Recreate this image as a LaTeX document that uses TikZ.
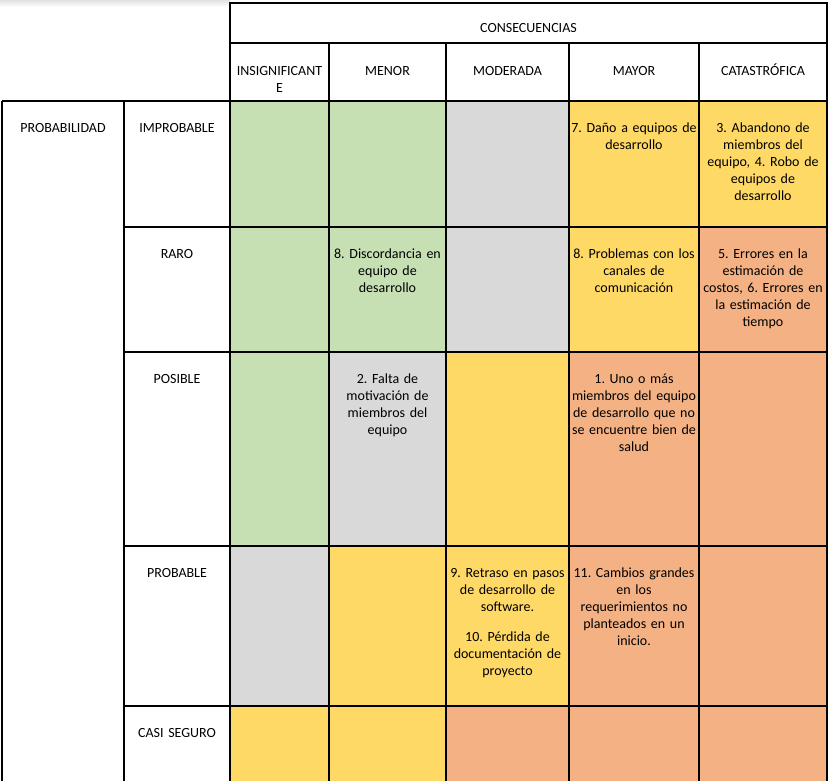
\documentclass[tikz,border=0pt]{standalone}
\usepackage{fontspec}
\setmainfont{Carlito}
\definecolor{cgreen}{HTML}{C6E0B4}
\definecolor{cgray}{HTML}{D9D9D9}
\definecolor{cyellow}{HTML}{FFD966}
\definecolor{corange}{HTML}{F4B183}
\begin{document}
\frenchspacing
\begin{tikzpicture}[x=1pt,y=-1pt,
  gridline/.style={line width=1.2pt, black},
  txt/.style={anchor=base, align=center, inner sep=0pt, text width=#1,
    font=\fontsize{14}{17}\selectfont\frenchspacing, text=black},
  txt/.default=124pt]
\useasboundingbox (0,0) rectangle (830,781);
\fill[white] (0,0) rectangle (830,781);
\shade[top color=black!12, bottom color=white] (0,0) rectangle (230,7);
% cell fills
\foreach \ta/\tb/\ca/\cb/\cc/\cd/\ce in {
  101/227/cgreen/cgreen/cgray/cyellow/cyellow,
  227/352/cgreen/cgreen/cgray/cyellow/corange,
  352/546/cgreen/cgray/cyellow/corange/corange,
  546/706/cgray/cyellow/cyellow/corange/corange,
  706/781/cyellow/cyellow/corange/corange/corange}{
  \fill[\ca] (230,\ta) rectangle (329,\tb);
  \fill[\cb] (329,\ta) rectangle (446,\tb);
  \fill[\cc] (446,\ta) rectangle (569,\tb);
  \fill[\cd] (569,\ta) rectangle (699,\tb);
  \fill[\ce] (699,\ta) rectangle (827,\tb);
}
% header grid
\draw[gridline] (230,3) rectangle (827,101);
\draw[gridline] (230,43) -- (827,43);
\foreach \x in {329,446,569,699} \draw[gridline] (\x,43) -- (\x,101);
% body grid
\draw[gridline] (2,101) -- (827,101);
\foreach \x in {2,124,230,329,446,569,699,827} \draw[gridline] (\x,101) -- (\x,781);
\foreach \y in {227,352,546,706} \draw[gridline] (124,\y) -- (827,\y);
% header texts
\node[txt=580pt] (consec) at (528.5,32.5) {CONSECUENCIAS};
\node[txt=95pt] (hinsig) at (279.5,75.5) {INSIGNIFICANT\\E};
\node[txt=110pt] (hmenor) at (387.5,75.5) {MENOR};
\node[txt=116pt] (hmoder) at (507.5,75.5) {MODERADA};
\node[txt=124pt] (hmayor) at (634,75.5) {MAYOR};
\node[txt=124pt] (hcatas) at (763,75.5) {CATASTRÓFICA};
% row labels
\node[txt=118pt] (prob) at (63,132.5) {PROBABILIDAD};
\node[txt=102pt] (rimp) at (177,132.5) {IMPROBABLE};
\node[txt=102pt] (rraro) at (177,258.5) {RARO};
\node[txt=102pt] (rposi) at (177,383.5) {POSIBLE};
\node[txt=102pt] (rprob) at (177,577.5) {PROBABLE};
\node[txt=102pt] (rcasi) at (177,737.5) {CASI SEGURO};
% cell texts
\node[txt=128pt] (t14) at (634,132.5) {7. Daño a equipos de\\desarrollo};
\node[txt=126pt] (t15) at (763,132.5) {3. Abandono de\\miembros del\\equipo, 4. Robo de\\equipos de\\desarrollo};
\node[txt=115pt] (t22) at (387.5,258.5) {8. Discordancia en\\equipo de\\desarrollo};
\node[txt=128pt] (t24) at (634,258.5) {8. Problemas con los\\canales de\\comunicación};
\node[txt=126pt] (t25) at (763,258.5) {5. Errores en la\\estimación de\\costos, 6. Errores en\\la estimación de\\tiempo};
\node[txt=115pt] (t32) at (387.5,383.5) {2. Falta de\\motivación de\\miembros del\\equipo};
\node[txt=128pt] (t34) at (634,383.5) {1. Uno o más\\miembros del equipo\\de desarrollo que no\\se encuentre bien de\\salud};
\node[txt=121pt] (t43) at (507.5,577.5) {9. Retraso en pasos\\de desarrollo de\\software.\\[13pt]10. Pérdida de\\documentación de\\proyecto};
\node[txt=128pt] (t44) at (634,577.5) {11. Cambios grandes\\en los\\requerimientos no\\planteados en un\\inicio.};
\end{tikzpicture}
\end{document}
